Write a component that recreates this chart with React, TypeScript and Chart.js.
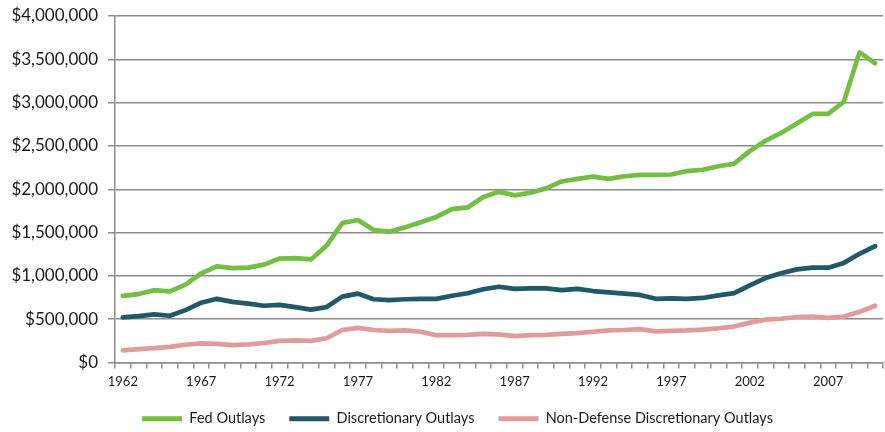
import React, { useEffect, useRef } from "react";
import { Chart, registerables } from "chart.js";

Chart.register(...registerables);

const years: string[] = [];
for (let y = 1962; y <= 2010; y++) years.push(String(y));

const fedOutlays = [
  770000, 790000, 835000, 820000, 900000, 1030000, 1110000, 1090000, 1095000, 1130000,
  1200000, 1205000, 1190000, 1350000, 1610000, 1645000, 1530000, 1510000, 1560000, 1620000,
  1680000, 1770000, 1790000, 1910000, 1970000, 1930000, 1960000, 2010000, 2090000, 2120000,
  2145000, 2120000, 2150000, 2165000, 2165000, 2170000, 2210000, 2225000, 2265000, 2295000,
  2440000, 2560000, 2650000, 2760000, 2870000, 2870000, 3010000, 3580000, 3455000,
];

const discretionaryOutlays = [
  520000, 535000, 555000, 540000, 605000, 690000, 735000, 700000, 680000, 655000,
  665000, 640000, 610000, 640000, 760000, 795000, 730000, 720000, 730000, 735000,
  735000, 770000, 800000, 845000, 875000, 850000, 855000, 855000, 835000, 850000,
  825000, 810000, 795000, 780000, 735000, 740000, 735000, 745000, 775000, 800000,
  890000, 975000, 1030000, 1075000, 1095000, 1095000, 1150000, 1255000, 1343000,
];

const nonDefenseDiscretionary = [
  140000, 155000, 165000, 180000, 205000, 220000, 215000, 200000, 210000, 225000,
  250000, 255000, 250000, 280000, 375000, 400000, 375000, 365000, 370000, 355000,
  315000, 315000, 320000, 330000, 325000, 305000, 315000, 320000, 330000, 340000,
  355000, 370000, 375000, 385000, 360000, 365000, 370000, 380000, 395000, 415000,
  460000, 495000, 505000, 525000, 530000, 515000, 530000, 585000, 655000,
];

const seriesNames = ["Fed Outlays", "Discretionary Outlays", "Non-Defense Discretionary Outlays"];
const seriesColors = ["#72bf44", "#215968", "#e29b9b"];

const legendFitPlugin = {
  id: "legendFit",
  beforeInit(chart: any) {
    const lg = chart.legend;
    if (!lg) return;
    const origFit = lg.fit;
    lg.fit = function () {
      origFit.call(this);
      this.height -= 4;
    };
    const origDraw = lg.draw;
    lg.draw = function () {
      const ctx = this.ctx;
      ctx.save();
      ctx.translate(16, 0);
      origDraw.call(this);
      ctx.restore();
    };
  },
};

export default function App() {
  const ref = useRef<HTMLCanvasElement | null>(null);

  useEffect(() => {
    document.body.style.margin = "0";
    if (!ref.current) return;
    const font = "Lato, 'Open Sans', sans-serif";
    const chart = new Chart(ref.current, {
      type: "line",
      plugins: [legendFitPlugin],
      data: {
        labels: years,
        datasets: [fedOutlays, discretionaryOutlays, nonDefenseDiscretionary].map((d, i) => ({
          label: seriesNames[i],
          data: d,
          borderColor: seriesColors[i],
          backgroundColor: seriesColors[i],
          borderWidth: 4.7,
          pointRadius: 0,
          tension: 0,
          fill: false,
          borderCapStyle: "round" as const,
          borderJoinStyle: "round" as const,
        })),
      },
      options: {
        animation: false,
        responsive: false,
        maintainAspectRatio: false,
        layout: { padding: { top: 16, right: 2, left: 0, bottom: 0 } },
        plugins: {
          tooltip: { enabled: false },
          legend: {
            position: "bottom",
            labels: {
              font: { family: font, size: 14.5 },
              color: "#1a1a1a",
              boxWidth: 40,
              boxHeight: 5,
              padding: 24,
              generateLabels: (c: any) => {
                const base = Chart.defaults.plugins.legend.labels.generateLabels(c);
                return base.map((l: any) => ({ ...l, lineWidth: 0, strokeStyle: "rgba(0,0,0,0)" }));
              },
            },
          },
        },
        scales: {
          x: {
            type: "category",
            offset: true,
            afterFit: (s: any) => {
              s.height = 25;
            },
            grid: {
              display: true,
              drawOnChartArea: false,
              offset: true,
              tickLength: 6,
              color: "#8c8c8c",
              lineWidth: 1.5,
            },
            border: { color: "#8c8c8c", width: 1.5 },
            ticks: {
              autoSkip: false,
              maxRotation: 0,
              minRotation: 0,
              padding: 6,
              font: { family: font, size: 13 },
              color: "#1a1a1a",
              callback: function (this: any, v: any, idx: number) {
                return idx % 5 === 0 ? years[idx] : "";
              },
            },
          },
          y: {
            min: 0,
            max: 4000000,
            afterFit: (s: any) => {
              s.width = 115;
              s.paddingTop = 0;
              s.paddingBottom = 0;
            },
            grid: {
              color: "#8c8c8c",
              lineWidth: 1.5,
              tickLength: 7,
            },
            border: { color: "#8c8c8c", width: 1.5 },
            ticks: {
              stepSize: 500000,
              padding: 10,
              font: { family: font, size: 17 },
              color: "#1a1a1a",
              callback: (v: any) => "$" + Number(v).toLocaleString("en-US"),
            },
          },
        },
      },
    });
    return () => chart.destroy();
  }, []);

  return (
    <div style={{ width: 885, height: 432, position: "relative" }}>
      <canvas ref={ref} width={885} height={432} style={{ width: 885, height: 432, display: "block" }} />
    </div>
  );
}
